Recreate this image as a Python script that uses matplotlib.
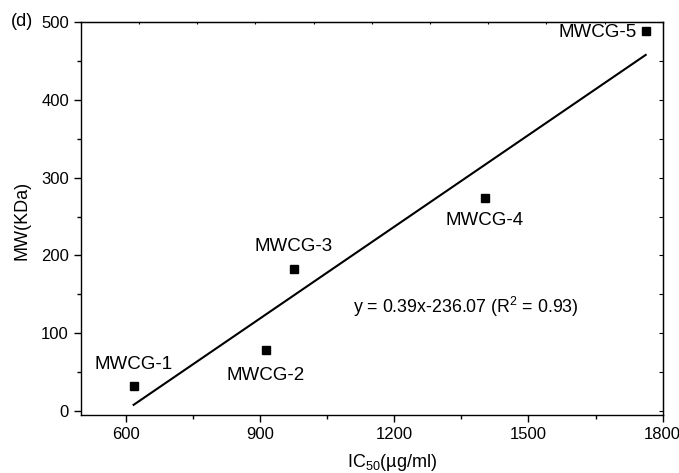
import numpy as np
import matplotlib.pyplot as plt
from matplotlib.ticker import MultipleLocator

plt.rcParams['font.family'] = ['Liberation Sans', 'DejaVu Sans']
plt.rcParams['mathtext.default'] = 'regular'

# IC50 (ug/ml) and MW (KDa) of each fraction
names = ["MWCG-1", "MWCG-2", "MWCG-3", "MWCG-4", "MWCG-5"]
ic50 = [618, 913, 976, 1403, 1762]
mw = [32, 78, 183, 274, 488]

# label positions (data coords)
label_x = [618, 913, 976, 1403, 1743]
label_y = [60, 46, 211, 245, 486]
label_ha = ["center", "center", "center", "center", "right"]

fig = plt.figure(figsize=(6.79, 4.73), dpi=100)
ax = fig.add_axes([0.119, 0.1226, 0.857, 0.831])

ax.plot(ic50, mw, "s", color="black", markersize=6, zorder=3)

# linear fit
k, b = np.polyfit(ic50, mw, 1)
xs = np.array([min(ic50), max(ic50)])
ax.plot(xs, k * xs + b, color="black", lw=1.5)

for n, x, y, ha in zip(names, label_x, label_y, label_ha):
    ax.text(x, y, n, ha=ha, va="center", fontsize=13.5)

ax.text(1108, 134, "y = 0.39x-236.07 (R$^2$ = 0.93)", ha="left", va="center",
        fontsize=12.8)

ax.set_xlim(500, 1800)
ax.set_ylim(-5, 500)
ax.xaxis.set_major_locator(MultipleLocator(300))
ax.xaxis.set_minor_locator(MultipleLocator(150))
ax.yaxis.set_major_locator(MultipleLocator(100))
ax.yaxis.set_minor_locator(MultipleLocator(50))
ax.tick_params(which="major", direction="out", length=5, width=1, labelsize=12,
               top=False, right=False)
ax.tick_params(which="minor", direction="out", length=3, width=1,
               top=False, right=False)
for s in ax.spines.values():
    s.set_linewidth(1)

# small inward ticks on top and right
sx = ax.secondary_xaxis("top")
sx.set_xticks(np.linspace(500, 1800, 11))
sx.tick_params(direction="in", length=1.5, width=0.8, labeltop=False)
sy = ax.secondary_yaxis("right")
sy.set_yticks(np.arange(0, 501, 50))
sy.tick_params(direction="in", length=3, width=0.8, labelright=False)

fig.text(392 / 679, 1 - 462 / 473, r"IC$_{50}$(µg/ml)", ha="center", va="center",
         fontsize=13)
fig.text(22 / 679, 1 - 220 / 473, "MW(KDa)", ha="center", va="center",
         rotation=90, fontsize=13)
fig.text(22 / 679, 1 - 22 / 473, "(d)", ha="center", va="center", fontsize=13)

fig.savefig("out.png", dpi=100)
